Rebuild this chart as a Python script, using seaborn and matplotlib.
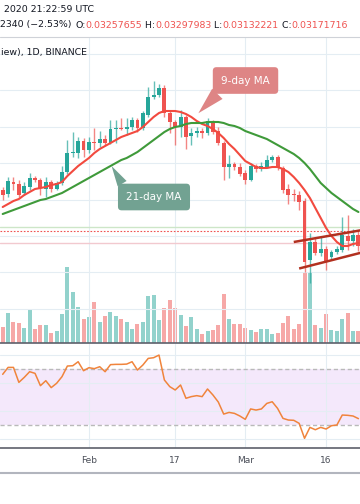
import matplotlib
matplotlib.use("Agg")

import matplotlib.dates as mdates
import matplotlib.pyplot as plt
import numpy as np
import pandas as pd
import seaborn as sns
from matplotlib.lines import Line2D

# Daily candles, 1D BINANCE, prices in BTC
dates = pd.date_range("2020-01-16", periods=67, freq="D")

opens = [
    0.03618, 0.03586, 0.03682, 0.03666, 0.03594, 0.03642, 0.03714, 0.03698, 0.03626, 0.03682,
    0.03626, 0.03674, 0.03762, 0.03914, 0.03914, 0.04010, 0.03938, 0.04002, 0.03994, 0.04026,
    0.03994, 0.04106, 0.04114, 0.04106, 0.04122, 0.04178, 0.04114, 0.04218, 0.04362, 0.04378,
    0.04434, 0.04234, 0.04162, 0.04122, 0.04202, 0.04050, 0.04074, 0.04090, 0.04074, 0.04170,
    0.04090, 0.03994, 0.03802, 0.03826, 0.03802, 0.03754, 0.03698, 0.03810, 0.03786, 0.03802,
    0.03858, 0.03882, 0.03794, 0.03626, 0.03586, 0.03578, 0.03530, 0.03058, 0.03202, 0.03114,
    0.03146, 0.03082, 0.03122, 0.03138, 0.03250, 0.03210, 0.03257655,
]
highs = [
    0.03642, 0.03722, 0.03722, 0.03698, 0.03682, 0.03754, 0.03730, 0.03714, 0.03722, 0.03698,
    0.03690, 0.03810, 0.04018, 0.04082, 0.04042, 0.04034, 0.04042, 0.04114, 0.04090, 0.04058,
    0.04178, 0.04178, 0.04194, 0.04194, 0.04202, 0.04194, 0.04250, 0.04442, 0.04490, 0.04466,
    0.04458, 0.04258, 0.04178, 0.04258, 0.04218, 0.04114, 0.04122, 0.04114, 0.04194, 0.04178,
    0.04122, 0.04010, 0.03898, 0.03842, 0.03834, 0.03778, 0.03834, 0.03826, 0.03842, 0.03898,
    0.03898, 0.03898, 0.03810, 0.03666, 0.03626, 0.03610, 0.03554, 0.03274, 0.03234, 0.03242,
    0.03170, 0.03138, 0.03170, 0.03402, 0.03418, 0.03306, 0.03297983,
]
lows = [
    0.03538, 0.03562, 0.03618, 0.03562, 0.03578, 0.03618, 0.03682, 0.03578, 0.03562, 0.03602,
    0.03618, 0.03658, 0.03746, 0.03882, 0.03874, 0.03882, 0.03914, 0.03938, 0.03962, 0.03978,
    0.03986, 0.03994, 0.04098, 0.04058, 0.04098, 0.04082, 0.04098, 0.04202, 0.04346, 0.04362,
    0.04202, 0.04074, 0.03978, 0.04042, 0.03946, 0.03978, 0.04042, 0.04034, 0.04058, 0.04066,
    0.03978, 0.03698, 0.03714, 0.03778, 0.03730, 0.03666, 0.03690, 0.03762, 0.03770, 0.03794,
    0.03842, 0.03778, 0.03594, 0.03506, 0.03530, 0.03458, 0.02962, 0.02874, 0.03098, 0.03090,
    0.02978, 0.03066, 0.03106, 0.03122, 0.03138, 0.03170, 0.03132221,
]
closes = [
    0.03578, 0.03690, 0.03666, 0.03578, 0.03650, 0.03714, 0.03698, 0.03634, 0.03682, 0.03626,
    0.03674, 0.03762, 0.03914, 0.03922, 0.04010, 0.03938, 0.04002, 0.03994, 0.04026, 0.03994,
    0.04106, 0.04114, 0.04106, 0.04122, 0.04178, 0.04114, 0.04234, 0.04362, 0.04378, 0.04434,
    0.04234, 0.04162, 0.04122, 0.04202, 0.04042, 0.04074, 0.04090, 0.04074, 0.04170, 0.04082,
    0.03994, 0.03802, 0.03826, 0.03802, 0.03746, 0.03698, 0.03810, 0.03786, 0.03810, 0.03858,
    0.03882, 0.03794, 0.03618, 0.03578, 0.03578, 0.03522, 0.03042, 0.03202, 0.03114, 0.03146,
    0.03042, 0.03122, 0.03146, 0.03258, 0.03210, 0.03254056, 0.03171716,
]
volumes = [
    15.7, 30, 21, 20, 15, 33, 14, 18, 18, 10,
    12, 29, 76, 51, 36, 24, 26, 41, 21, 27,
    31, 27, 24, 21, 14, 19, 21, 47, 48, 23,
    35, 43, 35, 28, 17, 26, 14, 9, 12, 13,
    18, 49, 24, 19, 19, 15, 13, 11, 14, 14,
    9, 10, 20, 27, 14, 19, 70, 70, 18, 15,
    29, 13, 12, 24, 30, 12, 12,
]
ma9 = [
    0.03482, 0.03506, 0.03530, 0.03546, 0.03578, 0.03602, 0.03626, 0.03634, 0.03642, 0.03658,
    0.03666, 0.03682, 0.03730, 0.03770, 0.03810, 0.03842, 0.03874, 0.03914, 0.03946, 0.03970,
    0.03994, 0.04018, 0.04042, 0.04058, 0.04074, 0.04090, 0.04122, 0.04162, 0.04202, 0.04234,
    0.04250, 0.04250, 0.04250, 0.04242, 0.04226, 0.04202, 0.04170, 0.04146, 0.04130, 0.04106,
    0.04074, 0.04034, 0.03986, 0.03946, 0.03898, 0.03850, 0.03826, 0.03802, 0.03794, 0.03794,
    0.03802, 0.03802, 0.03786, 0.03762, 0.03722, 0.03674, 0.03618, 0.03554, 0.03474, 0.03394,
    0.03314, 0.03250, 0.03202, 0.03170, 0.03170, 0.03186, 0.03194,
]
ma21 = [
    0.03426, 0.03442, 0.03458, 0.03474, 0.03490, 0.03506, 0.03522, 0.03538, 0.03546, 0.03562,
    0.03578, 0.03594, 0.03618, 0.03642, 0.03666, 0.03690, 0.03714, 0.03738, 0.03762, 0.03786,
    0.03810, 0.03834, 0.03858, 0.03874, 0.03898, 0.03922, 0.03954, 0.03986, 0.04018, 0.04050,
    0.04082, 0.04106, 0.04122, 0.04130, 0.04146, 0.04154, 0.04154, 0.04154, 0.04162, 0.04162,
    0.04162, 0.04154, 0.04138, 0.04130, 0.04114, 0.04090, 0.04074, 0.04058, 0.04042, 0.04026,
    0.04002, 0.03978, 0.03954, 0.03930, 0.03906, 0.03874, 0.03834, 0.03786, 0.03730, 0.03674,
    0.03634, 0.03594, 0.03562, 0.03530, 0.03498, 0.03466, 0.03442,
]
rsi = [
    66.4, 71.4, 71.4, 60.6, 64.2, 68.3, 67.1, 58.2, 61.8, 56.8,
    59.9, 64.7, 72.4, 72.6, 75.5, 69.0, 71.2, 70.5, 71.9, 68.3,
    73.4, 73.6, 73.6, 73.8, 75.5, 69.5, 73.1, 77.9, 78.4, 80.3,
    62.3, 57.5, 55.1, 58.7, 49.1, 50.3, 51.0, 50.3, 55.8, 51.5,
    46.4, 37.7, 38.9, 38.2, 36.3, 33.9, 41.4, 40.6, 41.4, 45.4,
    46.6, 41.8, 34.6, 33.4, 33.2, 31.0, 20.2, 28.1, 26.4, 28.1,
    26.9, 29.3, 29.8, 37.0, 36.8, 36.3, 34.4,
]

# drawings on the chart
channel_upper = (["2020-03-10", "2020-03-23"], [0.03202, 0.03300])
channel_lower = (["2020-03-11", "2020-03-23"], [0.02990, 0.03122])
level_green = 0.03322
last_price = 0.03290
level_pink = 0.03194
price_grid = [0.04706, 0.04415, 0.04124, 0.03833, 0.03542, 0.03251, 0.02960, 0.02669]
rsi_grid = [20, 40, 60, 80]
tick_dates = ["2020-02-01", "2020-02-17", "2020-03-01", "2020-03-16"]
tick_labels = ["Feb", "17", "Mar", "16"]

# header as visible in the (cropped) screenshot
header_time = "2020 21:22:59 UTC"
header_change = "2340 (\u22122.53%) "
header_symbol = "iew), 1D, BINANCE"

GREEN = "#26a69a"
RED = "#ef5350"
GRID = "#e4edf3"
DARK = "#131722"
AXIS = "#5d606b"

sns.set_style("white")
plt.rcParams["font.family"] = ["DejaVu Sans"]

W, H = 360, 504
fig = plt.figure(figsize=(W / 100, H / 100), dpi=100)
fig.patch.set_facecolor("white")

main_rect = [0, (H - 343) / H, 1, (343 - 37) / H]
ax_vol = fig.add_axes(main_rect)
ax = fig.add_axes(main_rect, sharex=ax_vol)
ax.set_facecolor("none")
ax_rsi = fig.add_axes([0, (H - 448) / H, 1, (448 - 344) / H], sharex=ax_vol)

x = mdates.date2num(dates)
o, h, l, c = map(np.array, (opens, highs, lows, closes))
colors = np.where(c >= o, GREEN, RED)

# volume, behind the candles
ax_vol.bar(x, volumes, width=0.74, color=colors, alpha=0.5, linewidth=0)
ax_vol.set_ylim(0, 306)
ax_vol.axis("off")

# price pane
ax.axhline(level_green, color="#cde6c8", lw=1.0, zorder=1)
ax.axhline(level_pink, color="#f2c9cf", lw=1.0, zorder=1)
ax.axhline(last_price, color=RED, lw=0.8, ls=(0, (1.5, 1.5)), zorder=1)
ax.vlines(x, l, h, colors=colors, lw=1.0, alpha=0.7, zorder=2)
body = np.maximum(np.abs(c - o), 0.00006)
ax.bar(x, body, width=0.72, bottom=np.minimum(o, c), color=colors, linewidth=0, zorder=3)
sns.lineplot(x=x, y=ma9, ax=ax, color="#f24a3f", lw=1.5, zorder=4)
sns.lineplot(x=x, y=ma21, ax=ax, color="#3f9a3a", lw=1.5, zorder=4)
for xs, ys in (channel_upper, channel_lower):
    ax.plot(mdates.date2num(pd.to_datetime(xs)), ys, color="#b2301f", lw=1.8,
            solid_capstyle="butt", zorder=5)

ax.annotate("9-day MA", xy=(x[0] + 36.3, 0.04232), xytext=(x[0] + 45.05, 0.04494),
            ha="center", va="center", color="white", fontsize=7.5, zorder=6,
            bbox=dict(boxstyle="round,pad=0.8,rounding_size=0.35", fc="#de8585", ec="none"),
            arrowprops=dict(arrowstyle="wedge,tail_width=1.4", fc="#de8585", ec="none",
                            relpos=(0.1, 0.05), shrinkA=0, shrinkB=0))
ax.annotate("21-day MA", xy=(x[0] + 20.2, 0.03810), xytext=(x[0] + 28.07, 0.03562),
            ha="center", va="center", color="white", fontsize=7.5, zorder=6,
            bbox=dict(boxstyle="round,pad=0.8,rounding_size=0.35", fc="#72a292", ec="none"),
            arrowprops=dict(arrowstyle="wedge,tail_width=1.0", fc="#72a292", ec="none",
                            relpos=(0.02, 0.95), shrinkA=0, shrinkB=0))

ax.set_ylim(0.02394, 0.04842)
ax.set_xlim(x[0] - 0.499, x[0] + 66.29)
ax.set_yticks(price_grid)
ax.set_xticks(mdates.date2num(pd.to_datetime(tick_dates)), tick_labels)
ax.grid(True, color=GRID, lw=0.8)
ax.set_axisbelow(True)
ax.tick_params(length=0, labelleft=False, labelbottom=False)
for side in ("top", "left", "right"):
    ax.spines[side].set_visible(False)
ax.spines["bottom"].set_color(AXIS)
ax.spines["bottom"].set_linewidth(1.2)
ax.set_xlabel("")
ax.set_ylabel("")

# RSI pane
ax_rsi.axhspan(30, 70, color="#f4e8fb", lw=0, zorder=0)
for lvl in (30, 70):
    ax_rsi.axhline(lvl, color="#b9b9b9", lw=1.0, ls=(0, (3, 2)), zorder=1)
sns.lineplot(x=x, y=rsi, ax=ax_rsi, color="#f0843c", lw=1.1, zorder=3)
ax_rsi.set_ylim(13.2, 88.3)
ax_rsi.set_yticks(rsi_grid)
ax_rsi.grid(True, color=GRID, lw=0.8)
ax_rsi.set_axisbelow(True)
ax_rsi.tick_params(axis="y", length=0, labelleft=False)
ax_rsi.tick_params(axis="x", length=2.5, width=0.8, color=AXIS, labelsize=6.5,
                   labelcolor="#4a4e58", pad=3.5)
for side in ("top", "left", "right"):
    ax_rsi.spines[side].set_visible(False)
ax_rsi.spines["bottom"].set_color(AXIS)
ax_rsi.spines["bottom"].set_linewidth(1.2)
ax_rsi.set_xlabel("")
ax_rsi.set_ylabel("")

# frame lines
fig.add_artist(Line2D([0, 1], [(H - 37) / H] * 2, color="#cfd2d8", lw=0.8))
fig.add_artist(Line2D([0, 1], [(H - 473) / H] * 2, color="#b2b5be", lw=1.5))

# header texts
renderer = fig.canvas.get_renderer()


def put_parts(x_px, y_px, parts, size):
    for s, col in parts:
        t = fig.text(x_px / W, 1 - y_px / H, s, color=col, fontsize=size, va="center", ha="left")
        x_px += t.get_window_extent(renderer=renderer).width


HS = 6.75
put_parts(4, 10, [(header_time, DARK)], HS)
parts = [
    (header_change, DARK),
    ("O:", DARK), (f"{opens[-1]:.8f}", RED),
    (" H:", DARK), (f"{highs[-1]:.8f}", RED),
    (" L:", DARK), (f"{lows[-1]:.8f}", RED),
    (" C:", DARK), (f"{closes[-1]:.8f}", RED),
]
put_parts(0.5, 25, parts, HS)
put_parts(1, 52, [(header_symbol, DARK)], HS)

fig.savefig("out.png", dpi=100, facecolor="white")
